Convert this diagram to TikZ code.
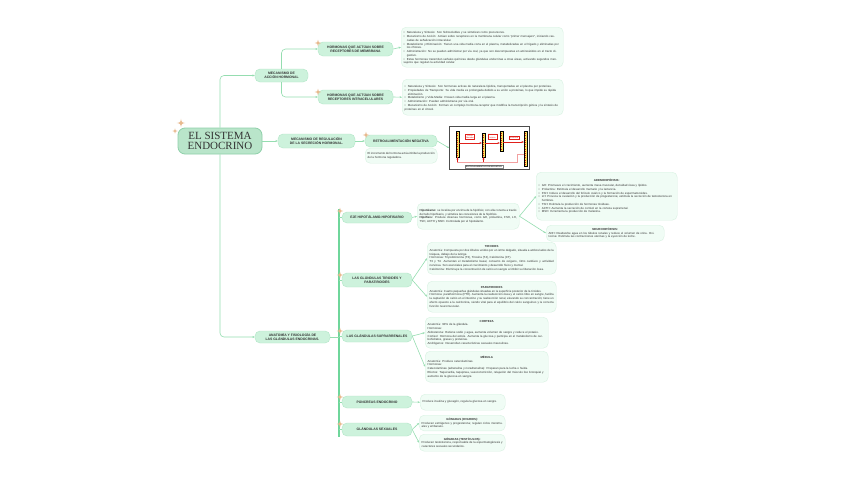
\documentclass[tikz,border=0pt]{standalone}
\usepackage{fontspec}
\setmainfont{Liberation Sans}
\newfontfamily\titlefont{Liberation Serif}
\usetikzlibrary{arrows.meta,positioning}
\definecolor{RootFill}{HTML}{B9E5CA}
\definecolor{RootLine}{HTML}{8FD0AA}
\definecolor{TopicFill}{HTML}{CDF2DC}
\definecolor{TopicLine}{HTML}{B2E6C7}
\definecolor{NoteFill}{HTML}{F0FCF5}
\definecolor{NoteLine}{HTML}{D8F2E2}
\definecolor{LinkGreen}{HTML}{95DDB0}
\definecolor{TrunkGreen}{HTML}{6FD69B}
\definecolor{Ink}{HTML}{333333}
\definecolor{StarTan}{HTML}{E8B98E}
\definecolor{DiagYellow}{HTML}{F6E45A}
\definecolor{DiagRed}{HTML}{E0201B}
\definecolor{FeedPink}{HTML}{F2A0A0}
\setlength{\parindent}{0pt}
\newcommand{\bul}{\par\noindent\hangindent=3.2pt\hangafter=1\makebox[3.2pt][l]{\textbullet}}
\newcommand{\notehead}[1]{{\centering\bfseries #1\par}}
\tikzset{
  rootbox/.style={rounded corners=7pt, fill=RootFill, draw=RootLine, line width=0.8pt,
    font=\titlefont\fontsize{11}{10.5}\selectfont, text=Ink, align=center,
    minimum width=84pt, minimum height=26pt, inner sep=1pt},
  topicbox/.style={rounded corners=5pt, fill=TopicFill, draw=TopicLine, line width=0.4pt,
    font=\bfseries\fontsize{3.4}{4.6}\selectfont, text=Ink, align=center, inner sep=1pt},
  notebox/.style={rounded corners=5pt, fill=NoteFill, draw=NoteLine, line width=0.4pt,
    font=\fontsize{2.9}{3.75}\selectfont, text=Ink, align=justify, anchor=north west, inner sep=2.5pt},
  link/.style={draw=LinkGreen, line width=0.6pt, rounded corners=4pt},
  trunk/.style={draw=TrunkGreen, line width=1.2pt},
  gland/.style={rectangle, fill=DiagYellow, draw=black, line width=0.3pt, minimum width=3pt, inner sep=0pt,
    path picture={\draw[DiagRed, line width=1pt, dash pattern=on 1pt off 1.2pt]
      (path picture bounding box.north) -- (path picture bounding box.south);}},
  diaglabel/.style={draw=DiagRed, line width=0.2pt, fill=white, text=DiagRed, align=center,
    font=\fontsize{2}{2.3}\selectfont, inner sep=0.6pt},
  diagarrow/.style={DiagRed, line width=0.8pt, ->},
  feedback/.style={FeedPink, line width=0.5pt},
  sparkle/.pic={\fill[StarTan] (0,3.2) .. controls (0.5,0.5) .. (3.2,0) .. controls (0.5,-0.5) .. (0,-3.2)
    .. controls (-0.5,-0.5) .. (-3.2,0) .. controls (-0.5,0.5) .. (0,3.2) -- cycle;}
}
\begin{document}
\begin{tikzpicture}[x=1pt, y=-1pt, >={Stealth[length=2.4pt,width=2pt]}]
    \useasboundingbox (0,0) rectangle (848,477);
    \fill[white] (0,0) rectangle (848,477);

    % Central topic
    \node[rootbox] (root) at (220,141) {EL SISTEMA\\ENDOCRINO};
    \pic[scale=1.3] at (181,123) {sparkle};
    \pic[scale=0.8] at (175,131) {sparkle};

    % Branch 1: mecanismo de accion hormonal
    \node[topicbox, minimum width=53pt, minimum height=13pt] (accion) at (281.5,75.5) {MECANISMO DE\\ACCIÓN HORMONAL};
    \node[topicbox, minimum width=75pt, minimum height=14pt] (membrana) at (355.5,49) {HORMONAS QUE ACTÚAN SOBRE\\RECEPTORES DE MEMBRANA};
    \node[topicbox, minimum width=75pt, minimum height=14pt] (intracel) at (355.5,97) {HORMONAS QUE ACTÚAN SOBRE\\RECEPTORES INTRACELULARES};
    \pic at (318,43) {sparkle};
    \pic at (318,92) {sparkle};

    \node[notebox, align=left, text width=157pt, minimum height=40pt] (membnote) at (401,27) {%
        \bul Naturaleza y Síntesis: Son hidrosolubles y se sintetizan como precursores.
        \bul Mecanismo de Acción: Actúan sobre receptores en la membrana celular como ``primer mensajero'', iniciando cascadas de señalización intracelular.
        \bul Metabolismo y Eliminación: Tienen una vida media corta en el plasma, metabolizadas en el hígado y eliminadas por los riñones.
        \bul Administración: No se pueden administrar por vía oral, ya que son descompuestas en aminoácidos en el tracto digestivo.
        \bul Estas hormonas transmiten señales químicas desde glándulas endocrinas a otras áreas, activando segundos mensajeros que regulan la actividad celular.};
    \node[notebox, align=left, text width=156pt, minimum height=36pt] (intranote) at (402,79) {%
        \bul Naturaleza y Síntesis: Son hormonas activas de naturaleza lipídica, transportadas en el plasma por proteínas.
        \bul Propiedades de Transporte: Su vida media es prolongada debido a su unión a proteínas, lo que impide su rápida eliminación.
        \bul Metabolismo y Vida Media: Poseen vida media larga en el plasma.
        \bul Administración: Pueden administrarse por vía oral.
        \bul Mecanismo de Acción: Forman un complejo hormona-receptor que modifica la transcripción génica y la síntesis de proteínas en el citosol.};

    % Branch 2: regulacion
    \node[topicbox, minimum width=77pt, minimum height=14pt] (regulacion) at (316.5,141) {MECANISMO DE REGULACIÓN\\DE LA SECRECIÓN HORMONAL.};
    \node[topicbox, minimum width=72pt, minimum height=12pt] (retro) at (401,141) {RETROALIMENTACIÓN NEGATIVA};
    \pic at (366,135) {sparkle};
    \node[notebox, text width=67pt, minimum height=15pt] (retronote) at (365,148) {%
        El incremento de hormona actúa inhibe la producción de la hormona reguladora.};

    % Feedback diagram
    \node[draw=gray!60!black, line width=0.7pt, fill=white, minimum width=80pt, minimum height=43pt, inner sep=0pt] (diagframe) at (489.5,148) {};
    \node[gland, minimum height=26pt] (bar1) at (457.5,144) {};
    \node[gland, minimum height=24pt] (bar2) at (483.5,145) {};
    \node[gland, minimum height=20pt] (bar3) at (501.5,141) {};
    \node[gland, minimum height=35pt] (bar4) at (525.5,148.5) {};
    \node[diaglabel] (lab1) at (470,136.5) {Factor\\liberador};
    \node[diaglabel] (lab2) at (492.5,136.5) {Hormona\\trópica};
    \node[diaglabel] (lab3) at (514,137.5) {Hormona};
    \draw[diagarrow] (bar1.east |- 0,143) -- (bar2.west |- 0,143);
    \draw[diagarrow] (bar2.east |- 0,143) -- (bar3.west |- 0,143);
    \draw[diagarrow] (bar3.east |- 0,142) -- (bar4.west |- 0,142);
    \coordinate (fbcorner) at (517,162);
    \draw[feedback] ([yshift=-6pt]bar4.west) -| (fbcorner) -| (bar1.south);
    \draw[DiagRed, line width=0.6pt, ->] (bar1.south |- fbcorner) -- (bar1.south);
    \draw[DiagRed, line width=0.6pt, ->] (bar2.south |- fbcorner) -- (bar2.south);
    \node[draw=gray, line width=0.2pt, inner sep=0.6pt, text=Ink, font=\bfseries\fontsize{2.2}{2.4}\selectfont] (diagcap) at (484,166.5) {RETROALIMENTACIÓN NEGATIVA};

    % Branch 3: anatomia y fisiologia
    \node[topicbox, minimum width=75pt, minimum height=12pt] (anatomia) at (292.5,337) {ANATOMÍA Y FISIOLOGÍA DE\\LAS GLÁNDULAS ENDOCRINAS.};
    \coordinate (trunktop) at (339,209);
    \coordinate (trunkbot) at (339,437);

    \node[topicbox, minimum width=70pt, minimum height=11pt] (eje) at (377,217.5) {EJE HIPOTÁLAMO-HIPOFISARIO};
    \node[topicbox, minimum width=70pt, minimum height=14pt] (tiroides) at (377,280) {LAS GLÁNDULAS TIROIDES Y\\PARATIROIDES};
    \node[topicbox, minimum width=70pt, minimum height=12pt] (supra) at (377,336) {LAS GLÁNDULAS SUPRARRENALES};
    \node[topicbox, minimum width=70pt, minimum height=12pt] (pancreas) at (377,402) {PÁNCREAS ENDOCRINO};
    \node[topicbox, minimum width=70pt, minimum height=13pt] (sexuales) at (377,429.5) {GLÁNDULAS SEXUALES};

    % Hipotalamo - hipofisis
    \node[notebox, text width=97pt, minimum height=26pt] (hiponote) at (417,203) {%
        \textbf{Hipotálamo:} se localiza por encima de la hipófisis; con ella conecta a través del tallo hipofisario, y sintetiza las conexiones de la hipófisis.\par
        \textbf{Hipófisis:} Produce diversas hormonas, como GH, prolactina, FSH, LH, TSH, ACTH y MSH. Controlada por el hipotálamo.};
    \node[notebox, align=left, text width=136pt, minimum height=48pt] (adeno) at (536,172) {%
        \notehead{ADENOHIPÓFISIS:}\vspace{1.5pt}
        \bul GH: Promueve el crecimiento, aumenta masa muscular, densidad ósea y lípidos.
        \bul Prolactina: Estimula el desarrollo mamario y la lactancia.
        \bul FSH: Induce el desarrollo del folículo ovárico y la formación de espermatozoides.
        \bul LH: Provoca la ovulación y la producción de progesterona; estimula la secreción de testosterona en hombres.
        \bul TSH: Estimula la producción de hormonas tiroideas.
        \bul ACTH: Aumenta la secreción de cortisol en la corteza suprarrenal.
        \bul MSH: Incrementa la producción de melanina.};
    \node[notebox, align=left, text width=113pt, minimum height=16pt] (neuro) at (546,225) {%
        \notehead{NEUROHIPÓFISIS:}
        ADH: Reabsorbe agua en los túbulos renales y reduce el volumen de orina. Oxitocina: Estimula las contracciones uterinas y la eyección de leche.};

    % Tiroides y paratiroides
    \node[notebox, text width=124pt, minimum height=32pt] (tirnote) at (427,242) {%
        \notehead{TIROIDES}
        Anatomía: Compuesta por dos lóbulos unidos por un istmo delgado, situada a ambos lados de la tráquea, debajo de la laringe.\par
        Hormonas: Triyodotironina (T3), Tiroxina (T4), Calcitonina (CT).\par
        T3 y T4: Aumentan el metabolismo basal, consumo de oxígeno, ritmo cardíaco y actividad nerviosa. Son esenciales para el crecimiento y desarrollo físico y mental.\par
        Calcitonina: Disminuye la concentración de calcio en sangre al inhibir su liberación ósea.};
    \node[notebox, text width=124pt, minimum height=31pt] (paranote) at (427,281) {%
        \notehead{PARATIROIDES}
        Anatomía: Cuatro pequeñas glándulas situadas en la superficie posterior de la tiroides.\par
        Hormona: parathormona (PTH). Aumenta la reabsorción ósea y el calcio libre en sangre, facilita la captación de calcio en el intestino y su reabsorción renal, elevando su concentración; tiene un efecto opuesto a la calcitonina, siendo vital para el equilibrio del calcio sanguíneo y la correcta función neuromuscular.};

    % Suprarrenales
    \node[notebox, align=left, text width=118pt, minimum height=31pt] (corteza) at (425,317) {%
        \notehead{CORTEZA}
        Anatomía: 90\% de la glándula.\par
        Hormonas:\par
        Aldosterona: Retiene sodio y agua, aumenta volumen de sangre y reduce el potasio.\par
        Cortisol: Hormona del estrés. Aumenta la glucosa y participa en el metabolismo de carbohidratos, grasas y proteínas.\par
        Andrógenos: Desarrollan características sexuales masculinas.};
    \node[notebox, align=left, text width=118pt, minimum height=31pt] (medula) at (425,351) {%
        \notehead{MÉDULA}
        Anatomía: Produce catecolaminas.\par
        Hormonas:\par
        Catecolaminas (adrenalina y noradrenalina): Preparan para la lucha o huida.\par
        Efectos: Taquicardia, taquipnea, vasoconstricción, relajación del músculo liso bronquial y aumento de la glucosa en sangre.};

    % Pancreas y gonadas
    \node[notebox, text width=80pt, minimum height=16pt] (pancnote) at (420,394) {%
        Produce insulina y glucagón, regula la glucosa en sangre.};
    \node[notebox, text width=81pt, minimum height=15pt] (ovarios) at (419,415) {%
        \notehead{GÓNADAS (OVARIOS):}
        Producen estrógenos y progesterona; regulan ciclos menstruales y embarazo.};
    \node[notebox, text width=81pt, minimum height=17pt] (testiculos) at (419,434) {%
        \notehead{GÓNADAS (TESTÍCULOS):}
        Producen testosterona, responsable de la espermatogénesis y caracteres sexuales secundarios.};

    % Connectors
    \draw[link,->] (root.north) |- (accion.west);
    \draw[link,->] (root.east) -- (regulacion.west);
    \draw[link,->] (root.south) |- (anatomia.west);
    \draw[link,->] (accion.north) |- (membrana.west);
    \draw[link,->] (accion.south) |- (intracel.west);
    \draw[link,->] (membrana.east) -- (membnote.west);
    \draw[link,->] (intracel.east) -- (intranote.west);
    \draw[link,->] (regulacion.east) -- (retro.west);
    \draw[link,->] (retro.east) -- (diagframe.west);
    \draw[trunk] (trunktop) -- (trunkbot);
    \draw[link] (anatomia.east) -- (anatomia.east -| trunktop);
    \foreach \t in {eje,tiroides,supra,pancreas,sexuales}
        \draw[link] (\t.west -| trunktop) -- (\t.west);
    \foreach \p in {(340,211),(340,275),(340,331),(340,397),(340,424)}
        \pic at \p {sparkle};
    \draw[link,->] (eje.east) -- (hiponote.west);
    \draw[link,->] (hiponote.east) -- (adeno.west);
    \draw[link,->] (hiponote.east) -- (neuro.west);
    \draw[link,->] (tiroides.east) -- (tirnote.west);
    \draw[link,->] (tiroides.east) -- (paranote.west);
    \draw[link,->] (supra.east) -- (corteza.west);
    \draw[link,->] (supra.east) -- (medula.west);
    \draw[link,->] (pancreas.east) -- (pancnote.west);
    \draw[link,->] (sexuales.east) -- (ovarios.west);
    \draw[link,->] (sexuales.east) -- (testiculos.west);
\end{tikzpicture}
\end{document}
